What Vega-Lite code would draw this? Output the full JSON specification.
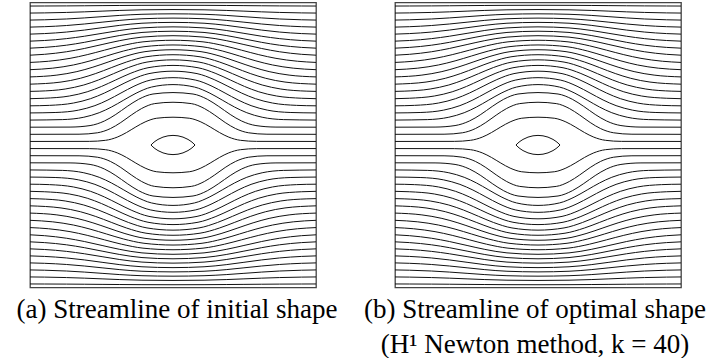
{
  "$schema": "https://vega.github.io/schema/vega-lite/v6.json",
  "padding": {"left": 15, "top": 1.5, "right": 0, "bottom": 0},
  "bounds": "flush",
  "spacing": 79,
  "config": {
    "view": {"stroke": "#444", "strokeWidth": 1.3},
    "title": {"font": "Liberation Serif", "fontSize": 27, "fontWeight": "normal", "color": "#000", "lineHeight": 35}
  },
  "datasets": {
    "stream": [
      {"l":20,"x":0,"y":20.5},{"l":20,"x":8.3,"y":20.51},{"l":20,"x":10.575,"y":20.66},{"l":20,"x":12.2,"y":21.105},{"l":20,"x":13.5,"y":21.751},{"l":20,"x":14.8,"y":22.537},{"l":20,"x":16.1,"y":23.24},{"l":20,"x":17.725,"y":23.757},{"l":20,"x":20,"y":23.9},{"l":20,"x":22.275,"y":23.757},{"l":20,"x":23.9,"y":23.24},{"l":20,"x":25.2,"y":22.537},{"l":20,"x":26.5,"y":21.751},{"l":20,"x":27.8,"y":21.105},{"l":20,"x":29.425,"y":20.66},{"l":20,"x":31.7,"y":20.51},{"l":20,"x":40,"y":20.5},
      {"l":19,"x":0,"y":19.5},{"l":19,"x":8.3,"y":19.49},{"l":19,"x":10.575,"y":19.34},{"l":19,"x":12.2,"y":18.895},{"l":19,"x":13.5,"y":18.249},{"l":19,"x":14.8,"y":17.463},{"l":19,"x":16.1,"y":16.76},{"l":19,"x":17.725,"y":16.243},{"l":19,"x":20,"y":16.1},{"l":19,"x":22.275,"y":16.243},{"l":19,"x":23.9,"y":16.76},{"l":19,"x":25.2,"y":17.463},{"l":19,"x":26.5,"y":18.249},{"l":19,"x":27.8,"y":18.895},{"l":19,"x":29.425,"y":19.34},{"l":19,"x":31.7,"y":19.49},{"l":19,"x":40,"y":19.5},
      {"l":21,"x":0,"y":21.5},{"l":21,"x":6.86,"y":21.514},{"l":21,"x":9.415,"y":21.712},{"l":21,"x":11.24,"y":22.301},{"l":21,"x":12.7,"y":23.156},{"l":21,"x":14.16,"y":24.196},{"l":21,"x":15.62,"y":25.127},{"l":21,"x":17.445,"y":25.811},{"l":21,"x":20,"y":26.0},{"l":21,"x":22.555,"y":25.811},{"l":21,"x":24.38,"y":25.127},{"l":21,"x":25.84,"y":24.196},{"l":21,"x":27.3,"y":23.156},{"l":21,"x":28.76,"y":22.301},{"l":21,"x":30.585,"y":21.712},{"l":21,"x":33.14,"y":21.514},{"l":21,"x":40,"y":21.5},
      {"l":18,"x":0,"y":18.5},{"l":18,"x":6.86,"y":18.486},{"l":18,"x":9.415,"y":18.288},{"l":18,"x":11.24,"y":17.699},{"l":18,"x":12.7,"y":16.844},{"l":18,"x":14.16,"y":15.804},{"l":18,"x":15.62,"y":14.873},{"l":18,"x":17.445,"y":14.189},{"l":18,"x":20,"y":14.0},{"l":18,"x":22.555,"y":14.189},{"l":18,"x":24.38,"y":14.873},{"l":18,"x":25.84,"y":15.804},{"l":18,"x":27.3,"y":16.844},{"l":18,"x":28.76,"y":17.699},{"l":18,"x":30.585,"y":18.288},{"l":18,"x":33.14,"y":18.486},{"l":18,"x":40,"y":18.5},
      {"l":22,"x":0,"y":22.5},{"l":22,"x":5.6,"y":22.515},{"l":22,"x":8.4,"y":22.728},{"l":22,"x":10.4,"y":23.365},{"l":22,"x":12,"y":24.288},{"l":22,"x":13.6,"y":25.411},{"l":22,"x":15.2,"y":26.417},{"l":22,"x":17.2,"y":27.156},{"l":22,"x":20,"y":27.36},{"l":22,"x":22.8,"y":27.156},{"l":22,"x":24.8,"y":26.417},{"l":22,"x":26.4,"y":25.411},{"l":22,"x":28,"y":24.288},{"l":22,"x":29.6,"y":23.365},{"l":22,"x":31.6,"y":22.728},{"l":22,"x":34.4,"y":22.515},{"l":22,"x":40,"y":22.5},
      {"l":17,"x":0,"y":17.5},{"l":17,"x":5.6,"y":17.485},{"l":17,"x":8.4,"y":17.272},{"l":17,"x":10.4,"y":16.635},{"l":17,"x":12,"y":15.712},{"l":17,"x":13.6,"y":14.589},{"l":17,"x":15.2,"y":13.583},{"l":17,"x":17.2,"y":12.844},{"l":17,"x":20,"y":12.64},{"l":17,"x":22.8,"y":12.844},{"l":17,"x":24.8,"y":13.583},{"l":17,"x":26.4,"y":14.589},{"l":17,"x":28,"y":15.712},{"l":17,"x":29.6,"y":16.635},{"l":17,"x":31.6,"y":17.272},{"l":17,"x":34.4,"y":17.485},{"l":17,"x":40,"y":17.5},
      {"l":23,"x":0,"y":23.5},{"l":23,"x":4.52,"y":23.565},{"l":23,"x":7.53,"y":23.898},{"l":23,"x":9.68,"y":24.531},{"l":23,"x":11.4,"y":25.333},{"l":23,"x":13.12,"y":26.309},{"l":23,"x":14.84,"y":27.27},{"l":23,"x":16.99,"y":28.131},{"l":23,"x":20,"y":28.48},{"l":23,"x":23.01,"y":28.131},{"l":23,"x":25.16,"y":27.27},{"l":23,"x":26.88,"y":26.309},{"l":23,"x":28.6,"y":25.333},{"l":23,"x":30.32,"y":24.531},{"l":23,"x":32.47,"y":23.898},{"l":23,"x":35.48,"y":23.565},{"l":23,"x":40,"y":23.5},
      {"l":16,"x":0,"y":16.5},{"l":16,"x":4.52,"y":16.435},{"l":16,"x":7.53,"y":16.102},{"l":16,"x":9.68,"y":15.469},{"l":16,"x":11.4,"y":14.667},{"l":16,"x":13.12,"y":13.691},{"l":16,"x":14.84,"y":12.73},{"l":16,"x":16.99,"y":11.869},{"l":16,"x":20,"y":11.52},{"l":16,"x":23.01,"y":11.869},{"l":16,"x":25.16,"y":12.73},{"l":16,"x":26.88,"y":13.691},{"l":16,"x":28.6,"y":14.667},{"l":16,"x":30.32,"y":15.469},{"l":16,"x":32.47,"y":16.102},{"l":16,"x":35.48,"y":16.435},{"l":16,"x":40,"y":16.5},
      {"l":24,"x":0,"y":24.5},{"l":24,"x":3.62,"y":24.564},{"l":24,"x":6.805,"y":24.896},{"l":24,"x":9.08,"y":25.525},{"l":24,"x":10.9,"y":26.322},{"l":24,"x":12.72,"y":27.292},{"l":24,"x":14.54,"y":28.247},{"l":24,"x":16.815,"y":29.104},{"l":24,"x":20,"y":29.45},{"l":24,"x":23.185,"y":29.104},{"l":24,"x":25.46,"y":28.247},{"l":24,"x":27.28,"y":27.292},{"l":24,"x":29.1,"y":26.322},{"l":24,"x":30.92,"y":25.525},{"l":24,"x":33.195,"y":24.896},{"l":24,"x":36.38,"y":24.564},{"l":24,"x":40,"y":24.5},
      {"l":15,"x":0,"y":15.5},{"l":15,"x":3.62,"y":15.436},{"l":15,"x":6.805,"y":15.104},{"l":15,"x":9.08,"y":14.475},{"l":15,"x":10.9,"y":13.678},{"l":15,"x":12.72,"y":12.708},{"l":15,"x":14.54,"y":11.753},{"l":15,"x":16.815,"y":10.896},{"l":15,"x":20,"y":10.55},{"l":15,"x":23.185,"y":10.896},{"l":15,"x":25.46,"y":11.753},{"l":15,"x":27.28,"y":12.708},{"l":15,"x":29.1,"y":13.678},{"l":15,"x":30.92,"y":14.475},{"l":15,"x":33.195,"y":15.104},{"l":15,"x":36.38,"y":15.436},{"l":15,"x":40,"y":15.5},
      {"l":25,"x":0,"y":25.5},{"l":25,"x":2.72,"y":25.563},{"l":25,"x":6.08,"y":25.889},{"l":25,"x":8.48,"y":26.506},{"l":25,"x":10.4,"y":27.288},{"l":25,"x":12.32,"y":28.241},{"l":25,"x":14.24,"y":29.179},{"l":25,"x":16.64,"y":30.02},{"l":25,"x":20,"y":30.36},{"l":25,"x":23.36,"y":30.02},{"l":25,"x":25.76,"y":29.179},{"l":25,"x":27.68,"y":28.241},{"l":25,"x":29.6,"y":27.288},{"l":25,"x":31.52,"y":26.506},{"l":25,"x":33.92,"y":25.889},{"l":25,"x":37.28,"y":25.563},{"l":25,"x":40,"y":25.5},
      {"l":14,"x":0,"y":14.5},{"l":14,"x":2.72,"y":14.437},{"l":14,"x":6.08,"y":14.111},{"l":14,"x":8.48,"y":13.494},{"l":14,"x":10.4,"y":12.712},{"l":14,"x":12.32,"y":11.759},{"l":14,"x":14.24,"y":10.821},{"l":14,"x":16.64,"y":9.98},{"l":14,"x":20,"y":9.64},{"l":14,"x":23.36,"y":9.98},{"l":14,"x":25.76,"y":10.821},{"l":14,"x":27.68,"y":11.759},{"l":14,"x":29.6,"y":12.712},{"l":14,"x":31.52,"y":13.494},{"l":14,"x":33.92,"y":14.111},{"l":14,"x":37.28,"y":14.437},{"l":14,"x":40,"y":14.5},
      {"l":26,"x":0,"y":26.5},{"l":26,"x":2,"y":26.561},{"l":26,"x":5.5,"y":26.874},{"l":26,"x":8,"y":27.467},{"l":26,"x":10,"y":28.219},{"l":26,"x":12,"y":29.134},{"l":26,"x":14,"y":30.035},{"l":26,"x":16.5,"y":30.843},{"l":26,"x":20,"y":31.17},{"l":26,"x":23.5,"y":30.843},{"l":26,"x":26,"y":30.035},{"l":26,"x":28,"y":29.134},{"l":26,"x":30,"y":28.219},{"l":26,"x":32,"y":27.467},{"l":26,"x":34.5,"y":26.874},{"l":26,"x":38,"y":26.561},{"l":26,"x":40,"y":26.5},
      {"l":13,"x":0,"y":13.5},{"l":13,"x":2,"y":13.439},{"l":13,"x":5.5,"y":13.126},{"l":13,"x":8,"y":12.533},{"l":13,"x":10,"y":11.781},{"l":13,"x":12,"y":10.866},{"l":13,"x":14,"y":9.965},{"l":13,"x":16.5,"y":9.157},{"l":13,"x":20,"y":8.83},{"l":13,"x":23.5,"y":9.157},{"l":13,"x":26,"y":9.965},{"l":13,"x":28,"y":10.866},{"l":13,"x":30,"y":11.781},{"l":13,"x":32,"y":12.533},{"l":13,"x":34.5,"y":13.126},{"l":13,"x":38,"y":13.439},{"l":13,"x":40,"y":13.5},
      {"l":27,"x":0,"y":27.526},{"l":27,"x":1.28,"y":27.558},{"l":27,"x":4.92,"y":27.856},{"l":27,"x":7.52,"y":28.421},{"l":27,"x":9.6,"y":29.138},{"l":27,"x":11.68,"y":30.01},{"l":27,"x":13.76,"y":30.869},{"l":27,"x":16.36,"y":31.639},{"l":27,"x":20,"y":31.95},{"l":27,"x":23.64,"y":31.639},{"l":27,"x":26.24,"y":30.869},{"l":27,"x":28.32,"y":30.01},{"l":27,"x":30.4,"y":29.138},{"l":27,"x":32.48,"y":28.421},{"l":27,"x":35.08,"y":27.856},{"l":27,"x":38.72,"y":27.558},{"l":27,"x":40,"y":27.526},
      {"l":12,"x":0,"y":12.474},{"l":12,"x":1.28,"y":12.442},{"l":12,"x":4.92,"y":12.144},{"l":12,"x":7.52,"y":11.579},{"l":12,"x":9.6,"y":10.862},{"l":12,"x":11.68,"y":9.99},{"l":12,"x":13.76,"y":9.131},{"l":12,"x":16.36,"y":8.361},{"l":12,"x":20,"y":8.05},{"l":12,"x":23.64,"y":8.361},{"l":12,"x":26.24,"y":9.131},{"l":12,"x":28.32,"y":9.99},{"l":12,"x":30.4,"y":10.862},{"l":12,"x":32.48,"y":11.579},{"l":12,"x":35.08,"y":12.144},{"l":12,"x":38.72,"y":12.442},{"l":12,"x":40,"y":12.474},
      {"l":28,"x":0,"y":28.539},{"l":28,"x":4.34,"y":28.834},{"l":28,"x":7.04,"y":29.363},{"l":28,"x":9.2,"y":30.035},{"l":28,"x":11.36,"y":30.852},{"l":28,"x":13.52,"y":31.657},{"l":28,"x":16.22,"y":32.378},{"l":28,"x":20,"y":32.67},{"l":28,"x":23.78,"y":32.378},{"l":28,"x":26.48,"y":31.657},{"l":28,"x":28.64,"y":30.852},{"l":28,"x":30.8,"y":30.035},{"l":28,"x":32.96,"y":29.363},{"l":28,"x":35.66,"y":28.834},{"l":28,"x":40,"y":28.539},
      {"l":11,"x":0,"y":11.461},{"l":11,"x":4.34,"y":11.166},{"l":11,"x":7.04,"y":10.637},{"l":11,"x":9.2,"y":9.965},{"l":11,"x":11.36,"y":9.148},{"l":11,"x":13.52,"y":8.343},{"l":11,"x":16.22,"y":7.622},{"l":11,"x":20,"y":7.33},{"l":11,"x":23.78,"y":7.622},{"l":11,"x":26.48,"y":8.343},{"l":11,"x":28.64,"y":9.148},{"l":11,"x":30.8,"y":9.965},{"l":11,"x":32.96,"y":10.637},{"l":11,"x":35.66,"y":11.166},{"l":11,"x":40,"y":11.461},
      {"l":29,"x":0,"y":29.555},{"l":29,"x":3.76,"y":29.81},{"l":29,"x":6.56,"y":30.301},{"l":29,"x":8.8,"y":30.924},{"l":29,"x":11.04,"y":31.683},{"l":29,"x":13.28,"y":32.43},{"l":29,"x":16.08,"y":33.099},{"l":29,"x":20,"y":33.37},{"l":29,"x":23.92,"y":33.099},{"l":29,"x":26.72,"y":32.43},{"l":29,"x":28.96,"y":31.683},{"l":29,"x":31.2,"y":30.924},{"l":29,"x":33.44,"y":30.301},{"l":29,"x":36.24,"y":29.81},{"l":29,"x":40,"y":29.555},
      {"l":10,"x":0,"y":10.445},{"l":10,"x":3.76,"y":10.19},{"l":10,"x":6.56,"y":9.699},{"l":10,"x":8.8,"y":9.076},{"l":10,"x":11.04,"y":8.317},{"l":10,"x":13.28,"y":7.57},{"l":10,"x":16.08,"y":6.901},{"l":10,"x":20,"y":6.63},{"l":10,"x":23.92,"y":6.901},{"l":10,"x":26.72,"y":7.57},{"l":10,"x":28.96,"y":8.317},{"l":10,"x":31.2,"y":9.076},{"l":10,"x":33.44,"y":9.699},{"l":10,"x":36.24,"y":10.19},{"l":10,"x":40,"y":10.445},
      {"l":30,"x":0,"y":30.572},{"l":30,"x":3.18,"y":30.783},{"l":30,"x":6.08,"y":31.233},{"l":30,"x":8.4,"y":31.803},{"l":30,"x":10.72,"y":32.497},{"l":30,"x":13.04,"y":33.18},{"l":30,"x":15.94,"y":33.792},{"l":30,"x":20,"y":34.04},{"l":30,"x":24.06,"y":33.792},{"l":30,"x":26.96,"y":33.18},{"l":30,"x":29.28,"y":32.497},{"l":30,"x":31.6,"y":31.803},{"l":30,"x":33.92,"y":31.233},{"l":30,"x":36.82,"y":30.783},{"l":30,"x":40,"y":30.572},
      {"l":9,"x":0,"y":9.428},{"l":9,"x":3.18,"y":9.217},{"l":9,"x":6.08,"y":8.767},{"l":9,"x":8.4,"y":8.197},{"l":9,"x":10.72,"y":7.503},{"l":9,"x":13.04,"y":6.82},{"l":9,"x":15.94,"y":6.208},{"l":9,"x":20,"y":5.96},{"l":9,"x":24.06,"y":6.208},{"l":9,"x":26.96,"y":6.82},{"l":9,"x":29.28,"y":7.503},{"l":9,"x":31.6,"y":8.197},{"l":9,"x":33.92,"y":8.767},{"l":9,"x":36.82,"y":9.217},{"l":9,"x":40,"y":9.428},
      {"l":31,"x":0,"y":31.589},{"l":31,"x":2.6,"y":31.756},{"l":31,"x":5.6,"y":32.162},{"l":31,"x":8,"y":32.678},{"l":31,"x":10.4,"y":33.305},{"l":31,"x":12.8,"y":33.922},{"l":31,"x":15.8,"y":34.476},{"l":31,"x":20,"y":34.7},{"l":31,"x":24.2,"y":34.476},{"l":31,"x":27.2,"y":33.922},{"l":31,"x":29.6,"y":33.305},{"l":31,"x":32,"y":32.678},{"l":31,"x":34.4,"y":32.162},{"l":31,"x":37.4,"y":31.756},{"l":31,"x":40,"y":31.589},
      {"l":8,"x":0,"y":8.411},{"l":8,"x":2.6,"y":8.244},{"l":8,"x":5.6,"y":7.838},{"l":8,"x":8,"y":7.322},{"l":8,"x":10.4,"y":6.695},{"l":8,"x":12.8,"y":6.078},{"l":8,"x":15.8,"y":5.524},{"l":8,"x":20,"y":5.3},{"l":8,"x":24.2,"y":5.524},{"l":8,"x":27.2,"y":6.078},{"l":8,"x":29.6,"y":6.695},{"l":8,"x":32,"y":7.322},{"l":8,"x":34.4,"y":7.838},{"l":8,"x":37.4,"y":8.244},{"l":8,"x":40,"y":8.411},
      {"l":32,"x":0,"y":32.604},{"l":32,"x":2.02,"y":32.727},{"l":32,"x":5.12,"y":33.088},{"l":32,"x":7.6,"y":33.545},{"l":32,"x":10.08,"y":34.102},{"l":32,"x":12.56,"y":34.65},{"l":32,"x":15.66,"y":35.141},{"l":32,"x":20,"y":35.34},{"l":32,"x":24.34,"y":35.141},{"l":32,"x":27.44,"y":34.65},{"l":32,"x":29.92,"y":34.102},{"l":32,"x":32.4,"y":33.545},{"l":32,"x":34.88,"y":33.088},{"l":32,"x":37.98,"y":32.727},{"l":32,"x":40,"y":32.604},
      {"l":7,"x":0,"y":7.396},{"l":7,"x":2.02,"y":7.273},{"l":7,"x":5.12,"y":6.912},{"l":7,"x":7.6,"y":6.455},{"l":7,"x":10.08,"y":5.898},{"l":7,"x":12.56,"y":5.35},{"l":7,"x":15.66,"y":4.859},{"l":7,"x":20,"y":4.66},{"l":7,"x":24.34,"y":4.859},{"l":7,"x":27.44,"y":5.35},{"l":7,"x":29.92,"y":5.898},{"l":7,"x":32.4,"y":6.455},{"l":7,"x":34.88,"y":6.912},{"l":7,"x":37.98,"y":7.273},{"l":7,"x":40,"y":7.396},
      {"l":33,"x":0,"y":33.591},{"l":33,"x":2.02,"y":33.698},{"l":33,"x":5.12,"y":34.011},{"l":33,"x":7.6,"y":34.409},{"l":33,"x":10.08,"y":34.893},{"l":33,"x":12.56,"y":35.37},{"l":33,"x":15.66,"y":35.797},{"l":33,"x":20,"y":35.97},{"l":33,"x":24.34,"y":35.797},{"l":33,"x":27.44,"y":35.37},{"l":33,"x":29.92,"y":34.893},{"l":33,"x":32.4,"y":34.409},{"l":33,"x":34.88,"y":34.011},{"l":33,"x":37.98,"y":33.698},{"l":33,"x":40,"y":33.591},
      {"l":6,"x":0,"y":6.409},{"l":6,"x":2.02,"y":6.302},{"l":6,"x":5.12,"y":5.989},{"l":6,"x":7.6,"y":5.591},{"l":6,"x":10.08,"y":5.107},{"l":6,"x":12.56,"y":4.63},{"l":6,"x":15.66,"y":4.203},{"l":6,"x":20,"y":4.03},{"l":6,"x":24.34,"y":4.203},{"l":6,"x":27.44,"y":4.63},{"l":6,"x":29.92,"y":5.107},{"l":6,"x":32.4,"y":5.591},{"l":6,"x":34.88,"y":5.989},{"l":6,"x":37.98,"y":6.302},{"l":6,"x":40,"y":6.409},
      {"l":34,"x":0,"y":34.576},{"l":34,"x":2.02,"y":34.666},{"l":34,"x":5.12,"y":34.931},{"l":34,"x":7.6,"y":35.265},{"l":34,"x":10.08,"y":35.673},{"l":34,"x":12.56,"y":36.075},{"l":34,"x":15.66,"y":36.434},{"l":34,"x":20,"y":36.58},{"l":34,"x":24.34,"y":36.434},{"l":34,"x":27.44,"y":36.075},{"l":34,"x":29.92,"y":35.673},{"l":34,"x":32.4,"y":35.265},{"l":34,"x":34.88,"y":34.931},{"l":34,"x":37.98,"y":34.666},{"l":34,"x":40,"y":34.576},
      {"l":5,"x":0,"y":5.424},{"l":5,"x":2.02,"y":5.334},{"l":5,"x":5.12,"y":5.069},{"l":5,"x":7.6,"y":4.735},{"l":5,"x":10.08,"y":4.327},{"l":5,"x":12.56,"y":3.925},{"l":5,"x":15.66,"y":3.566},{"l":5,"x":20,"y":3.42},{"l":5,"x":24.34,"y":3.566},{"l":5,"x":27.44,"y":3.925},{"l":5,"x":29.92,"y":4.327},{"l":5,"x":32.4,"y":4.735},{"l":5,"x":34.88,"y":5.069},{"l":5,"x":37.98,"y":5.334},{"l":5,"x":40,"y":5.424},
      {"l":35,"x":0,"y":35.563},{"l":35,"x":2.02,"y":35.637},{"l":35,"x":5.12,"y":35.854},{"l":35,"x":7.6,"y":36.129},{"l":35,"x":10.08,"y":36.464},{"l":35,"x":12.56,"y":36.794},{"l":35,"x":15.66,"y":37.09},{"l":35,"x":20,"y":37.21},{"l":35,"x":24.34,"y":37.09},{"l":35,"x":27.44,"y":36.794},{"l":35,"x":29.92,"y":36.464},{"l":35,"x":32.4,"y":36.129},{"l":35,"x":34.88,"y":35.854},{"l":35,"x":37.98,"y":35.637},{"l":35,"x":40,"y":35.563},
      {"l":4,"x":0,"y":4.437},{"l":4,"x":2.02,"y":4.363},{"l":4,"x":5.12,"y":4.146},{"l":4,"x":7.6,"y":3.871},{"l":4,"x":10.08,"y":3.536},{"l":4,"x":12.56,"y":3.206},{"l":4,"x":15.66,"y":2.91},{"l":4,"x":20,"y":2.79},{"l":4,"x":24.34,"y":2.91},{"l":4,"x":27.44,"y":3.206},{"l":4,"x":29.92,"y":3.536},{"l":4,"x":32.4,"y":3.871},{"l":4,"x":34.88,"y":4.146},{"l":4,"x":37.98,"y":4.363},{"l":4,"x":40,"y":4.437},
      {"l":36,"x":0,"y":36.548},{"l":36,"x":2.02,"y":36.605},{"l":36,"x":5.12,"y":36.771},{"l":36,"x":7.6,"y":36.982},{"l":36,"x":10.08,"y":37.239},{"l":36,"x":12.56,"y":37.492},{"l":36,"x":15.66,"y":37.718},{"l":36,"x":20,"y":37.81},{"l":36,"x":24.34,"y":37.718},{"l":36,"x":27.44,"y":37.492},{"l":36,"x":29.92,"y":37.239},{"l":36,"x":32.4,"y":36.982},{"l":36,"x":34.88,"y":36.771},{"l":36,"x":37.98,"y":36.605},{"l":36,"x":40,"y":36.548},
      {"l":3,"x":0,"y":3.452},{"l":3,"x":2.02,"y":3.395},{"l":3,"x":5.12,"y":3.229},{"l":3,"x":7.6,"y":3.018},{"l":3,"x":10.08,"y":2.761},{"l":3,"x":12.56,"y":2.508},{"l":3,"x":15.66,"y":2.282},{"l":3,"x":20,"y":2.19},{"l":3,"x":24.34,"y":2.282},{"l":3,"x":27.44,"y":2.508},{"l":3,"x":29.92,"y":2.761},{"l":3,"x":32.4,"y":3.018},{"l":3,"x":34.88,"y":3.229},{"l":3,"x":37.98,"y":3.395},{"l":3,"x":40,"y":3.452},
      {"l":37,"x":0,"y":37.533},{"l":37,"x":2.02,"y":37.573},{"l":37,"x":5.12,"y":37.688},{"l":37,"x":7.6,"y":37.835},{"l":37,"x":10.08,"y":38.013},{"l":37,"x":12.56,"y":38.189},{"l":37,"x":15.66,"y":38.346},{"l":37,"x":20,"y":38.41},{"l":37,"x":24.34,"y":38.346},{"l":37,"x":27.44,"y":38.189},{"l":37,"x":29.92,"y":38.013},{"l":37,"x":32.4,"y":37.835},{"l":37,"x":34.88,"y":37.688},{"l":37,"x":37.98,"y":37.573},{"l":37,"x":40,"y":37.533},
      {"l":2,"x":0,"y":2.467},{"l":2,"x":2.02,"y":2.427},{"l":2,"x":5.12,"y":2.312},{"l":2,"x":7.6,"y":2.165},{"l":2,"x":10.08,"y":1.987},{"l":2,"x":12.56,"y":1.811},{"l":2,"x":15.66,"y":1.654},{"l":2,"x":20,"y":1.59},{"l":2,"x":24.34,"y":1.654},{"l":2,"x":27.44,"y":1.811},{"l":2,"x":29.92,"y":1.987},{"l":2,"x":32.4,"y":2.165},{"l":2,"x":34.88,"y":2.312},{"l":2,"x":37.98,"y":2.427},{"l":2,"x":40,"y":2.467},
      {"l":38,"x":0,"y":38.519},{"l":38,"x":2.02,"y":38.541},{"l":38,"x":5.12,"y":38.606},{"l":38,"x":7.6,"y":38.688},{"l":38,"x":10.08,"y":38.788},{"l":38,"x":12.56,"y":38.886},{"l":38,"x":15.66,"y":38.974},{"l":38,"x":20,"y":39.01},{"l":38,"x":24.34,"y":38.974},{"l":38,"x":27.44,"y":38.886},{"l":38,"x":29.92,"y":38.788},{"l":38,"x":32.4,"y":38.688},{"l":38,"x":34.88,"y":38.606},{"l":38,"x":37.98,"y":38.541},{"l":38,"x":40,"y":38.519},
      {"l":1,"x":0,"y":1.481},{"l":1,"x":2.02,"y":1.459},{"l":1,"x":5.12,"y":1.394},{"l":1,"x":7.6,"y":1.312},{"l":1,"x":10.08,"y":1.212},{"l":1,"x":12.56,"y":1.114},{"l":1,"x":15.66,"y":1.026},{"l":1,"x":20,"y":0.99},{"l":1,"x":24.34,"y":1.026},{"l":1,"x":27.44,"y":1.114},{"l":1,"x":29.92,"y":1.212},{"l":1,"x":32.4,"y":1.312},{"l":1,"x":34.88,"y":1.394},{"l":1,"x":37.98,"y":1.459},{"l":1,"x":40,"y":1.481},
      {"l":39,"x":0,"y":39.504},{"l":39,"x":2.02,"y":39.509},{"l":39,"x":5.12,"y":39.523},{"l":39,"x":7.6,"y":39.54},{"l":39,"x":10.08,"y":39.562},{"l":39,"x":12.56,"y":39.583},{"l":39,"x":15.66,"y":39.602},{"l":39,"x":20,"y":39.61},{"l":39,"x":24.34,"y":39.602},{"l":39,"x":27.44,"y":39.583},{"l":39,"x":29.92,"y":39.562},{"l":39,"x":32.4,"y":39.54},{"l":39,"x":34.88,"y":39.523},{"l":39,"x":37.98,"y":39.509},{"l":39,"x":40,"y":39.504},
      {"l":0,"x":0,"y":0.496},{"l":0,"x":2.02,"y":0.491},{"l":0,"x":5.12,"y":0.477},{"l":0,"x":7.6,"y":0.46},{"l":0,"x":10.08,"y":0.438},{"l":0,"x":12.56,"y":0.417},{"l":0,"x":15.66,"y":0.398},{"l":0,"x":20,"y":0.39},{"l":0,"x":24.34,"y":0.398},{"l":0,"x":27.44,"y":0.417},{"l":0,"x":29.92,"y":0.438},{"l":0,"x":32.4,"y":0.46},{"l":0,"x":34.88,"y":0.477},{"l":0,"x":37.98,"y":0.491},{"l":0,"x":40,"y":0.496}
    ],
    "lens": [
      {"o":0,"x":16.92,"y":20},{"o":1,"x":17.2,"y":20.275},{"o":2,"x":17.48,"y":20.505},{"o":3,"x":17.9,"y":20.783},{"o":4,"x":18.6,"y":21.106},{"o":5,"x":19.3,"y":21.288},{"o":6,"x":20,"y":21.347},{"o":7,"x":20.7,"y":21.288},{"o":8,"x":21.4,"y":21.106},{"o":9,"x":22.1,"y":20.783},{"o":10,"x":22.52,"y":20.505},{"o":11,"x":22.8,"y":20.275},{"o":12,"x":23.08,"y":20},
      {"o":13,"x":22.8,"y":19.725},{"o":14,"x":22.52,"y":19.495},{"o":15,"x":22.1,"y":19.217},{"o":16,"x":21.4,"y":18.894},{"o":17,"x":20.7,"y":18.712},{"o":18,"x":20,"y":18.653},{"o":19,"x":19.3,"y":18.712},{"o":20,"x":18.6,"y":18.894},{"o":21,"x":17.9,"y":19.217},{"o":22,"x":17.48,"y":19.495},{"o":23,"x":17.2,"y":19.725}
    ]
  },
  "hconcat": [
    {
      "width": 286,
      "height": 285,
      "title": {"text": "(a) Streamline of initial shape", "orient": "bottom", "anchor": "middle", "dx": 4, "offset": 9, "baseline": "top"},
      "layer": [
        {
          "data": {"name": "stream"},
          "mark": {"type": "line", "interpolate": "monotone", "stroke": "#111", "strokeWidth": 1},
          "encoding": {
            "x": {"field": "x", "type": "quantitative", "scale": {"domain": [0, 40], "nice": false, "zero": false}, "axis": null},
            "y": {"field": "y", "type": "quantitative", "scale": {"domain": [0, 40], "nice": false, "zero": false}, "axis": null},
            "detail": {"field": "l", "type": "nominal"}
          }
        },
        {
          "data": {"name": "lens"},
          "mark": {"type": "line", "interpolate": "linear-closed", "stroke": "#111", "strokeWidth": 1},
          "encoding": {
            "x": {"field": "x", "type": "quantitative"},
            "y": {"field": "y", "type": "quantitative"},
            "order": {"field": "o", "type": "quantitative"}
          }
        }
      ]
    },
    {
      "width": 286,
      "height": 285,
      "title": {"text": ["(b) Streamline of optimal shape", "(H¹ Newton method, k = 40)"], "orient": "bottom", "anchor": "middle", "dx": -3, "offset": 9, "baseline": "top"},
      "layer": [
        {
          "data": {"name": "stream"},
          "mark": {"type": "line", "interpolate": "monotone", "stroke": "#111", "strokeWidth": 1},
          "encoding": {
            "x": {"field": "x", "type": "quantitative", "scale": {"domain": [0, 40], "nice": false, "zero": false}, "axis": null},
            "y": {"field": "y", "type": "quantitative", "scale": {"domain": [0, 40], "nice": false, "zero": false}, "axis": null},
            "detail": {"field": "l", "type": "nominal"}
          }
        },
        {
          "data": {"name": "lens"},
          "mark": {"type": "line", "interpolate": "linear-closed", "stroke": "#111", "strokeWidth": 1},
          "encoding": {
            "x": {"field": "x", "type": "quantitative"},
            "y": {"field": "y", "type": "quantitative"},
            "order": {"field": "o", "type": "quantitative"}
          }
        }
      ]
    }
  ]
}
